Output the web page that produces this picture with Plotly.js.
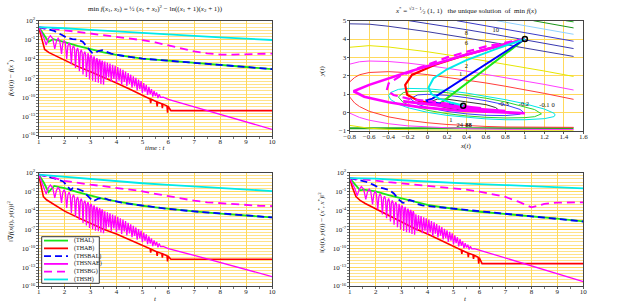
<!DOCTYPE html>
<html><head><meta charset="utf-8">
<script src="https://cdn.plot.ly/plotly-3.0.1.min.js"></script>
<style>html,body{margin:0;padding:0;background:#fff}#chart{width:622px;height:305px}</style>
</head><body><div id="chart"></div>
<script>
// ---------- tick labels ----------
const expVals = [-16,-13,-10,-7,-4,-1,2];
const expText = ['10<sup>-16</sup>','10<sup>-13</sup>','10<sup>-10</sup>','10<sup>-7</sup>','10<sup>-4</sup>','10<sup>-1</sup>','10<sup>2</sup>'];
const seriesNames = ['(THAL)','(THAB)','(THSBAL)','(THSNAE)','(THSBG)','(THSH)'];

// ---------- time panels (values are log10 of the plotted quantity) ----------
// top-left: f(x(t)) - f(x*)
const tl_t_THAL = [1,1.2,1.38,1.56,1.75,2,2.5,3,3.5,4,4.5,5,5.5,6,7,8,9,10];
const tl_THAL   = [1.0,-0.2,-1.3,-0.9,-1.05,-1.35,-1.95,-2.5,-2.95,-3.35,-3.7,-3.95,-4.1,-4.25,-4.6,-4.9,-5.25,-5.58];
const tl_t_THAB = [1,1.1,1.23,1.4,1.6,2,2.5,3,3.5,4,4.5,5,5.3,5.32,5.34,5.55,5.57,5.59,5.75,5.77,5.79,5.95,5.97,5.99,6.1,10];
const tl_THAB   = [1.0,-0.7,-2.5,-3.0,-3.4,-4.25,-5.15,-6.0,-6.85,-7.75,-8.7,-9.7,-10.25,-10.9,-10.3,-10.7,-11.4,-10.75,-11.0,-11.7,-11.05,-11.35,-12.4,-11.4,-12.08,-12.08];
const tl_t_THSBAL = [1,1.3,1.6,1.9,2.1,2.3,2.5,2.7,2.9,3.05,3.15,3.3,3.45,3.6,3.8,4,4.5,5,5.5,6,7,8,9,10];
const tl_THSBAL   = [1.0,0.75,0.4,-0.25,-0.7,-0.9,-0.95,-1.3,-2.2,-3.0,-3.1,-2.75,-2.6,-2.85,-3.15,-3.35,-3.7,-3.95,-4.1,-4.25,-4.6,-4.9,-5.25,-5.58];
const tl_t_THSBG = [1,1.5,2,2.5,3,3.5,4,4.5,5,5.5,6,6.5,7,7.5,8,8.5,9,9.5,10];
const tl_THSBG   = [1.0,0.8,0.5,0.25,0.0,-0.3,-0.55,-0.8,-1.05,-1.4,-1.85,-2.35,-2.8,-3.1,-3.3,-3.3,-3.25,-3.2,-3.15];
const tl_t_THSH = [1,1.5,2,3,4,5,6,7,8,9,10];
const tl_THSH   = [1.0,0.93,0.82,0.55,0.3,0.05,-0.2,-0.42,-0.62,-0.82,-1.02];

// shared time samples of the oscillating (THSNAE) trajectory
const nae_t = [1.00,1.10,1.20,1.29, 1.37,1.45,1.54,1.62, 1.685,1.75,1.815,1.88, 1.93,1.98,2.03,2.08,
  2.125,2.17,2.215,2.26, 2.30,2.34,2.38,2.42, 2.46,2.50,2.53,2.57, 2.605,2.64,2.675,2.71,
  2.74,2.775,2.81,2.84, 2.87,2.90,2.93,2.96, 2.99,3.02,3.05,3.08, 3.11,3.135,3.16,3.19,
  3.22,3.245,3.27,3.30, 3.325,3.35,3.375,3.40, 3.425,3.45,3.475,3.50,
  3.55,3.60,3.65,3.70,3.75,3.80,3.85,3.90,3.95,4.00,4.05,4.10,4.15,4.20,4.25,4.30,4.35,4.40,4.45,4.50,4.55,4.60,
  4.65,4.70,4.75,4.80,4.85,4.90,4.95,5.00,5.05,5.10,5.15,5.20,5.25,5.30,5.35,5.40,5.45,5.50,5.55,5.60,5.65,5.70,
  5.80,6.0,7.0,8.0,9.0,10.0];
const tl_THSNAE = [1.0,0.1,-0.7,-1.8, -0.8,-0.35,-0.8,-2.4, -1.2,-0.75,-1.2,-3.2, -1.55,-1.1,-1.55,-4.0,
  -1.95,-1.5,-1.95,-4.8, -2.35,-1.9,-2.35,-5.4, -2.7,-2.25,-2.7,-5.9, -3.0,-2.55,-3.0,-6.4,
  -3.3,-2.85,-3.3,-6.8, -3.55,-3.1,-3.55,-7.2, -3.8,-3.35,-3.8,-7.4, -4.05,-3.6,-4.05,-7.6,
  -4.3,-3.85,-4.3,-7.7, -4.5,-4.05,-4.5,-7.9, -4.7,-4.25,-4.7,-8.0,
  -4.4,-7.2,-4.55,-6.9,-4.7,-7.5,-4.9,-7.1,-5.05,-7.7,-5.25,-7.4,-5.5,-8.0,-5.7,-7.6,-5.95,-8.2,-6.2,-7.9,-6.45,-8.5,
  -6.7,-8.3,-6.95,-8.9,-7.2,-8.7,-7.45,-9.3,-7.75,-9.1,-8.05,-9.6,-8.35,-9.5,-8.7,-9.9,-9.0,-9.8,-9.25,-10.1,-9.5,-10.0,
  -9.95,-10.3,-11.5,-12.7,-13.8,-15.0];

// bottom-left: |grad f|^2
const bl_t_THAL = [1,1.2,1.38,1.6,1.8,2,2.5,3,3.5,4,4.5,5,5.5,6,7,8,9,10];
const bl_THAL   = [1.7,0.4,-1.1,-0.1,-0.3,-0.45,-1.1,-1.65,-2.15,-2.55,-2.95,-3.25,-3.5,-3.75,-4.15,-4.5,-4.8,-5.1];
const bl_t_THAB = [1,1.1,1.18,1.3,1.5,2,2.5,3,3.5,4,4.5,5,5.3,5.32,5.34,5.55,5.57,5.59,5.75,5.77,5.79,5.95,5.97,5.99,6.1,10];
const bl_THAB   = [1.7,0.0,-1.8,-2.3,-2.85,-4.1,-5.1,-6.1,-7.0,-7.75,-8.65,-9.6,-10.1,-10.7,-10.15,-10.55,-11.2,-10.6,-10.85,-11.5,-10.9,-11.2,-12.1,-11.25,-11.75,-11.75];
const bl_t_THSBAL = [1,1.3,1.6,1.95,2.1,2.23,2.32,2.45,2.7,2.9,3.1,3.3,3.5,3.7,3.9,4.2,4.5,5,5.5,6,7,8,9,10];
const bl_THSBAL   = [1.7,1.45,1.1,0.6,-0.2,-0.75,-0.45,-0.5,-0.9,-1.7,-2.55,-2.1,-2.0,-2.3,-2.5,-2.75,-2.95,-3.25,-3.5,-3.75,-4.15,-4.5,-4.8,-5.1];
const bl_t_THSBG = [1,1.5,2,2.5,3,3.5,4,4.5,5,5.5,6,6.5,7,7.5,8,8.5,9,9.5,10];
const bl_THSBG   = [1.7,1.3,0.7,0.35,0.1,-0.15,-0.4,-0.65,-0.95,-1.35,-1.75,-2.15,-2.45,-2.7,-2.85,-3.0,-3.15,-3.25,-3.3];
const bl_t_THSH = [1,2,3,4,5,6,7,8,9,10];
const bl_THSH   = [1.7,1.35,0.95,0.62,0.32,0.05,-0.2,-0.45,-0.68,-0.92];
const bl_THSNAE = [1.7,0.7,-0.2,-1.4, -0.4,0.05,-0.4,-2.0, -0.8,-0.35,-0.8,-2.8, -1.15,-0.7,-1.15,-3.6,
  -1.55,-1.1,-1.55,-4.4, -1.95,-1.5,-1.95,-5.0, -2.3,-1.85,-2.3,-5.5, -2.6,-2.15,-2.6,-6.0,
  -2.9,-2.45,-2.9,-6.4, -3.15,-2.7,-3.15,-6.8, -3.4,-2.95,-3.4,-7.0, -3.65,-3.2,-3.65,-7.2,
  -3.9,-3.45,-3.9,-7.3, -4.1,-3.65,-4.1,-7.5, -4.3,-3.85,-4.3,-7.6,
  -4.15,-6.95,-4.3,-6.65,-4.45,-7.25,-4.65,-6.85,-4.8,-7.45,-5.0,-7.15,-5.25,-7.75,-5.45,-7.35,-5.7,-7.95,-5.95,-7.65,-6.2,-8.25,
  -6.45,-8.05,-6.7,-8.65,-6.95,-8.45,-7.2,-9.05,-7.5,-8.85,-7.8,-9.35,-8.1,-9.25,-8.45,-9.65,-8.75,-9.55,-9.0,-9.85,-9.25,-9.75,
  -9.7,-10.05,-11.15,-12.25,-13.35,-14.5];

// bottom-right: ||(x,y)-(x*,x*)||^2
const br_t_THAL = [1,1.2,1.4,1.55,1.75,2,2.5,3,3.5,4,4.5,5,5.5,6,7,8,9,10];
const br_THAL   = [1.15,0.1,-0.8,-0.7,-0.8,-0.95,-1.55,-2.1,-2.65,-3.1,-3.45,-3.75,-4.0,-4.2,-4.55,-4.9,-5.3,-5.75];
const br_t_THAB = [1,1.1,1.24,1.4,1.6,2,2.5,3,3.5,4,4.5,5,5.3,5.32,5.34,5.55,5.57,5.59,5.75,5.77,5.79,5.95,5.97,5.99,6.1,10];
const br_THAB   = [1.15,-0.3,-1.8,-2.4,-2.9,-3.75,-4.85,-5.9,-6.85,-7.75,-8.7,-9.7,-10.3,-10.9,-10.35,-10.75,-11.4,-10.8,-11.05,-11.7,-11.1,-11.45,-12.45,-11.5,-12.45,-12.45];
const br_t_THSBAL = [1,1.3,1.6,1.9,2.1,2.3,2.5,2.7,2.9,3.05,3.15,3.3,3.45,3.6,3.8,4,4.5,5,5.5,6,7,8,9,10];
const br_THSBAL   = [1.15,0.9,0.6,0.1,-0.3,-0.5,-0.7,-1.3,-2.3,-2.8,-2.75,-2.35,-2.5,-2.95,-3.2,-3.3,-3.5,-3.75,-4.0,-4.2,-4.55,-4.9,-5.3,-5.75];
const br_t_THSBG = [1,1.5,2,2.5,3,3.5,4,4.5,5,5.5,6,6.5,7,7.5,7.8,8.0,8.2,8.5,9,9.5,10];
const br_THSBG   = [1.15,1.0,0.75,0.5,0.3,0.15,0.0,-0.2,-0.45,-0.7,-1.0,-1.4,-1.85,-2.6,-3.2,-3.5,-3.3,-2.95,-2.75,-2.7,-2.7];
const br_t_THSH = [1,2,3,4,5,6,7,8,9,10];
const br_THSH   = [1.15,1.05,0.8,0.57,0.38,0.2,0.04,-0.14,-0.3,-0.49];
const br_THSNAE = [1.15,0.25,-0.55,-1.65, -0.65,-0.2,-0.65,-2.25, -1.05,-0.6,-1.05,-3.05, -1.4,-0.95,-1.4,-3.85,
  -1.8,-1.35,-1.8,-4.65, -2.2,-1.75,-2.2,-5.25, -2.55,-2.1,-2.55,-5.75, -2.85,-2.4,-2.85,-6.25,
  -3.15,-2.7,-3.15,-6.65, -3.4,-2.95,-3.4,-7.05, -3.65,-3.2,-3.65,-7.25, -3.9,-3.45,-3.9,-7.45,
  -4.15,-3.7,-4.15,-7.55, -4.35,-3.9,-4.35,-7.75, -4.55,-4.1,-4.55,-7.85,
  -4.6,-7.3,-4.75,-7.0,-4.9,-7.6,-5.1,-7.2,-5.25,-7.8,-5.45,-7.5,-5.7,-8.1,-5.9,-7.7,-6.15,-8.3,-6.4,-8.0,-6.65,-8.6,
  -6.9,-8.4,-7.15,-9.0,-7.4,-8.8,-7.65,-9.4,-7.95,-9.2,-8.25,-9.7,-8.55,-9.6,-8.9,-10.0,-9.2,-9.9,-9.45,-10.2,-9.7,-10.1,
  -10.05,-10.3,-11.45,-12.7,-14.0,-15.3];

// ---------- phase plane (top-right): level curves of f ----------
const lvM03_x = [0.03,0.1,0.2,0.4,0.6,0.7,0.725,0.7,0.6,0.4,0.2,0.1,0.03];
const lvM03_y = [0.58,0.725,0.72,0.575,0.422,0.26,0.15,0.06,0.027,0.085,0.24,0.372,0.58];
const lvM02_x = [-0.178,-0.1,0,0.2,0.4,0.6,0.8,0.95,0.98,0.95,0.8,0.6,0.4,0.2,0,-0.1,-0.178];
const lvM02_y = [0.75,0.955,0.985,0.931,0.805,0.633,0.41,0.16,0.03,-0.104,-0.176,-0.16,-0.082,0.05,0.265,0.435,0.75];
const lvM01_x = [-0.3,-0.25,-0.2,0,0.2,0.4,0.6,0.8,1.0,1.1,1.17,1.1,1.0,0.8,0.6,0.4,0.2,0,-0.2,-0.25,-0.3];
const lvM01_y = [0.84,1.075,1.13,1.153,1.073,0.941,0.773,0.57,0.318,0.152,-0.08,-0.235,-0.288,-0.305,-0.27,-0.193,-0.07,0.113,0.41,0.535,0.84];
const lv0_x = [-0.4,-0.38,-0.3,-0.2,0,0.2,0.4,0.6,0.8,1.0,1.2,1.3,1.31,1.3,1.2,1.0,0.8,0.6,0.4,0.2,0,-0.2,-0.3,-0.38,-0.4];
const lv0_y = [0.92,1.08,1.255,1.307,1.285,1.19,1.052,0.886,0.693,0.47,0.18,-0.05,-0.14,-0.23,-0.343,-0.401,-0.402,-0.357,-0.28,-0.165,0,0.25,0.445,0.70,0.92];
const lv1_x = [1.5,1.2,1.0,0.8,0.6,0.4,0.2,0,-0.2,-0.4,-0.6,-0.7,-0.75,-0.8,-0.82,-0.8,-0.75,-0.7,-0.6,-0.4,-0.2,0,0.2,0.4,0.6,0.8,1.0,1.2,1.5];
const lv1_y = [-0.817,-0.82,-0.814,-0.796,-0.768,-0.723,-0.66,-0.567,-0.436,-0.245,0.06,0.32,0.513,0.84,1.25,1.66,1.897,2.05,2.175,2.22,2.165,2.058,1.92,1.77,1.603,1.424,1.235,1.035,0.71];
const lv2_x = [1.5,1.2,0.8,0.4,0,-0.2,-0.4,-0.6,-0.7,-0.8,null,-0.8,-0.7,-0.6,-0.4,-0.2,0,0.4,0.8,1.2,1.5];
const lv2_y = [-0.937,-0.936,-0.924,-0.891,-0.812,-0.737,-0.62,-0.427,-0.275,-0.04,null,2.63,2.76,2.8,2.774,2.685,2.557,2.25,1.905,1.525,1.22];
const lv4_x = [1.5,0.4,0,-0.4,-0.6,-0.8,null,-0.8,-0.6,-0.4,0,0.4,0.8,1.2,1.5];
const lv4_y = [-0.991,-0.985,-0.97,-0.926,-0.866,-0.71,null,3.55,3.64,3.565,3.305,2.98,2.63,2.255,1.96];
const lv8_x = [-0.8,-0.6,-0.4,0,0.4,0.8,1.2,1.5];
const lv8_y = [4.83,4.81,4.696,4.4,4.06,3.703,3.33,3.05];
const lv10_x = [-0.19,0,0.4,0.7,1.0,1.2,1.5];
const lv10_y = [5,4.85,4.51,4.24,3.96,3.77,3.48];
const lv12_x = [0.3,0.6,1.0,1.2,1.5];
const lv12_y = [5,4.73,4.36,4.17,3.88];
const lv14_x = [0.71,1.0,1.5];
const lv14_y = [5,4.735,4.26];
const lv16_x = [1.087,1.5];
const lv16_y = [5,4.606];
const lv18_x = [1.42,1.5];
const lv18_y = [5,4.935];
const lvLow_x = [-0.8,1.5];
const lvLow_y = [-0.87,-0.87];
const lvLabel_x = [0.70,0.40,0.40,0.40,0.34,0.78,0.99,1.20,1.29,0.24,0.33,0.42];
const lvLabel_y = [4.45,4.31,3.77,2.49,2.09,0.46,0.41,0.36,0.36,-0.42,-0.69,-0.69];
const lvLabel_t = ['10','8','6','2','1','-0.3','-0.2','-0.1','0','1','24','<b>88</b>'];

// trajectories
const tr_THAL_x = [1,0.7,0.4,0.12,0.15,0.22,0.3,0.366];
const tr_THAL_y = [4,2.79,1.58,0.45,0.35,0.31,0.33,0.366];
const tr_THAB_x = [1,0.4,0.07,-0.16,-0.23,-0.21,-0.09,0.1,0.25,0.366];
const tr_THAB_y = [4,3.15,2.58,2.04,1.5,0.96,0.62,0.45,0.39,0.366];
const tr_THSBAL_x = [1,0.5,0.05,-0.01,0.0,0.06,0.15,0.26,0.366];
const tr_THSBAL_y = [4,2.29,0.75,0.66,0.58,0.52,0.47,0.42,0.366];
const tr_THSNAE_x = [1,0.4,-0.2,-0.6,-0.76,-0.65,-0.4,-0.1,0.3,0.7,1.0,0.7,0.3,0.0,-0.25,-0.1,0.3,0.7,0.8,0.5,0.2,0.05,0.3,0.55,0.45,0.3,0.366];
const tr_THSNAE_y = [4,3.15,2.2,1.5,1.15,0.85,0.55,0.3,0.1,0.0,-0.05,0.05,0.25,0.45,0.6,0.55,0.3,0.1,0.07,0.2,0.38,0.45,0.33,0.22,0.28,0.38,0.366];
const tr_THSBG_x = [1,0.6,0.2,-0.1,-0.28,-0.4,-0.42,-0.35,-0.2,0.0,0.2,0.366];
const tr_THSBG_y = [4,3.6,3.0,2.4,1.98,1.58,1.2,0.95,0.75,0.6,0.47,0.366];
const tr_THSH_x = [1,0.7,0.4,0.2,0.06,0.01,0.04,0.12,0.25,0.366];
const tr_THSH_y = [4,3.45,2.85,2.35,1.85,1.35,1.0,0.75,0.52,0.38];
const pts_x = [1,0.366];
const pts_y = [4,0.366];

// ---------- styling ----------
const W = 622, H = 305;
const px = v => v / W, py = v => (H - v) / H;
const GOLD = '#ffd95c', GOLD2 = '#ffe28a';
const SERIF = 'Liberation Serif, DejaVu Serif, serif';
const tickFont = {family: SERIF, size: 7, color: '#222'};
const COL = {THAL:'#19e619', THAB:'#ff0000', THSBAL:'#0000ff', THSNAE:'#ff00ff', THSBG:'#ff00ff', THSH:'#00eaea'};
const DASH = {THAL:'solid', THAB:'solid', THSBAL:'7px,4px', THSNAE:'solid', THSBG:'8px,5px', THSH:'solid'};

function line(x, y, xa, ya, color, width, dash) {
  return {type:'scatter', mode:'lines', x, y, xaxis:xa, yaxis:ya,
    line:{color, width, dash: dash || 'solid'}, hoverinfo:'skip', showlegend:false};
}
const traces = [];
function addPanel(xa, ya, d) {
  traces.push(line(d[0][0], d[0][1], xa, ya, COL.THAL, 1.8, DASH.THAL));
  traces.push(line(d[1][0], d[1][1], xa, ya, COL.THAB, 1.6, DASH.THAB));
  traces.push(line(d[2][0], d[2][1], xa, ya, COL.THSBAL, 1.8, DASH.THSBAL));
  traces.push(line(d[3][0], d[3][1], xa, ya, COL.THSNAE, 1.3, DASH.THSNAE));
  traces.push(line(d[4][0], d[4][1], xa, ya, COL.THSBG, 1.8, DASH.THSBG));
  traces.push(line(d[5][0], d[5][1], xa, ya, COL.THSH, 1.8, DASH.THSH));
}
addPanel('x','y',[[tl_t_THAL,tl_THAL],[tl_t_THAB,tl_THAB],[tl_t_THSBAL,tl_THSBAL],[nae_t,tl_THSNAE],[tl_t_THSBG,tl_THSBG],[tl_t_THSH,tl_THSH]]);
addPanel('x3','y3',[[bl_t_THAL,bl_THAL],[bl_t_THAB,bl_THAB],[bl_t_THSBAL,bl_THSBAL],[nae_t,bl_THSNAE],[bl_t_THSBG,bl_THSBG],[bl_t_THSH,bl_THSH]]);
addPanel('x4','y4',[[br_t_THAL,br_THAL],[br_t_THAB,br_THAB],[br_t_THSBAL,br_THSBAL],[nae_t,br_THSNAE],[br_t_THSBG,br_THSBG],[br_t_THSH,br_THSH]]);

// phase plane contours
[[lvLow_x,lvLow_y,'#22aa22',2],[lv18_x,lv18_y,'#22b022',1],[lv16_x,lv16_y,'#1a961a',1],[lv14_x,lv14_y,'#8fd0ff',1],
 [lv12_x,lv12_y,'#3a3ac8',1],[lv10_x,lv10_y,'#3838b0',1],[lv8_x,lv8_y,'#3c3ca0',1],[lv4_x,lv4_y,'#e6e600',1],
 [lv2_x,lv2_y,'#ff3cff',1],[lv1_x,lv1_y,'#ff3c3c',1],[lv0_x,lv0_y,'#00e6e6',1],[lvM01_x,lvM01_y,'#2ad62a',1],
 [lvM02_x,lvM02_y,'#3c3cff',1],[lvM03_x,lvM03_y,'#333333',1]]
 .forEach(c => traces.push(line(c[0], c[1], 'x2', 'y2', c[2], c[3])));
traces.push({type:'scatter', mode:'text', x:lvLabel_x, y:lvLabel_y, text:lvLabel_t, xaxis:'x2', yaxis:'y2',
  textfont:{family:SERIF, size:6.5, color:'#111'}, hoverinfo:'skip', showlegend:false, cliponaxis:false});
traces.push(line(tr_THAL_x, tr_THAL_y, 'x2','y2', COL.THAL, 2));
traces.push(line(tr_THAB_x, tr_THAB_y, 'x2','y2', COL.THAB, 2.2));
traces.push(line(tr_THSBAL_x, tr_THSBAL_y, 'x2','y2', COL.THSBAL, 2));
traces.push(line(tr_THSNAE_x, tr_THSNAE_y, 'x2','y2', COL.THSNAE, 2.6));
traces.push(line(tr_THSBG_x, tr_THSBG_y, 'x2','y2', COL.THSBG, 2.2, DASH.THSBG));
traces.push(line(tr_THSH_x, tr_THSH_y, 'x2','y2', COL.THSH, 2));
traces.push({type:'scatter', mode:'markers', x:pts_x, y:pts_y, xaxis:'x2', yaxis:'y2',
  marker:{symbol:'circle-open', size:5, color:'#000', line:{width:1.5, color:'#000'}}, hoverinfo:'skip', showlegend:false});

// ---------- axes ----------
const dTLx = [px(38.7), px(272)], dTRx = [px(349.7), px(583.3)];
const dTopY = [py(135.7), py(20.7)], dTRy = [py(130.7), py(20.7)], dBotY = [py(286), py(172.7)];
function xTime(domain, anchor) {
  return {domain, anchor, range:[1,10], tickmode:'linear', tick0:1, dtick:1, showgrid:true, gridcolor:GOLD, gridwidth:1,
    zeroline:false, showline:true, mirror:true, linecolor:'#444', linewidth:1, ticks:'outside', ticklen:2, tickcolor:'#555',
    ticklabelstandoff:-3, tickfont:tickFont,
    minor:{tickmode:'linear', tick0:1, dtick:0.5, ticks:'outside', ticklen:2, tickcolor:'#777', showgrid:false}};
}
function yLog(domain, anchor) {
  return {domain, anchor, range:[-16,2], tickmode:'array', tickvals:expVals, ticktext:expText, showgrid:true, gridcolor:GOLD, gridwidth:1,
    zeroline:false, showline:true, mirror:true, linecolor:'#444', linewidth:1, ticks:'outside', ticklen:2, tickcolor:'#555',
    ticklabelstandoff:-1, tickfont:tickFont,
    minor:{tickmode:'linear', tick0:-16, dtick:0.5, ticks:'outside', ticklen:2, tickcolor:'#777', showgrid:true, gridcolor:GOLD2, gridwidth:1}};
}
const layout = {
  width: W, height: H, margin:{l:0,r:0,t:0,b:0}, paper_bgcolor:'#fff', plot_bgcolor:'#fff', showlegend:false,
  font:{family:SERIF, size:7, color:'#222'},
  xaxis: xTime(dTLx, 'y'), yaxis: yLog(dTopY, 'x'),
  xaxis3: xTime(dTLx, 'y3'), yaxis3: yLog(dBotY, 'x3'),
  xaxis4: xTime(dTRx, 'y4'), yaxis4: yLog(dBotY, 'x4'),
  xaxis2: {domain:dTRx, anchor:'y2', range:[-0.8,1.6], tickmode:'linear', tick0:-0.8, dtick:0.2, showgrid:true, gridcolor:GOLD,
    zeroline:false, showline:true, mirror:true, linecolor:'#444', ticks:'outside', ticklen:2, tickcolor:'#555',
    ticklabelstandoff:-3, tickfont:tickFont},
  yaxis2: {domain:dTRy, anchor:'x2', range:[-1,5], tickmode:'linear', tick0:-1, dtick:1, showgrid:true, gridcolor:GOLD,
    zeroline:false, showline:true, mirror:true, linecolor:'#444', ticks:'outside', ticklen:2, tickcolor:'#555',
    ticklabelstandoff:-1, tickfont:tickFont},
  annotations: [], shapes: []
};
function ann(text, xp, yp, opts) {
  layout.annotations.push(Object.assign({text, x:px(xp), y:py(yp), xref:'paper', yref:'paper', showarrow:false,
    xanchor:'center', yanchor:'middle', font:{family:SERIF, size:7, color:'#111'}}, opts || {}));
}
ann('min <i>f</i>(<i>x</i><sub>1</sub>, <i>x</i><sub>2</sub>) = ½ (<i>x</i><sub>1</sub> + <i>x</i><sub>2</sub>)<sup>2</sup> − ln((<i>x</i><sub>1</sub> + 1)(<i>x</i><sub>2</sub> + 1))', 155, 8);
ann('<i>x</i><sup>*</sup> = <sup>√3 − 1</sup>⁄<sub>2</sub> (1, 1)   the unique solution  of  min <i>f</i>(<i>x</i>)', 466, 10);
ann('<i>time</i> : <i>t</i>', 155, 148);
ann('<i>t</i>', 155, 299);
ann('<i>t</i>', 466, 299);
ann('<i>x</i>(<i>t</i>)', 466, 146);
ann('<i>y</i>(<i>t</i>)', 322, 72, {textangle:-90});
ann('<i>f</i>(<i>x</i>(<i>t</i>)) − <i>f</i>(<i>x</i><sup>*</sup>)', 10, 78, {textangle:-90});
ann('‖∇<i>f</i>(<i>x</i>(<i>t</i>), <i>y</i>(<i>t</i>))‖<sup>2</sup>', 10, 222, {textangle:-90});
ann('‖(<i>x</i>(<i>t</i>), <i>y</i>(<i>t</i>)) − (<i>x</i><sup>*</sup>, <i>x</i><sup>*</sup>)‖<sup>2</sup>', 321, 222, {textangle:-90});

// manual legend (bottom-left)
layout.shapes.push({type:'rect', xref:'paper', yref:'paper', x0:px(41.7), x1:px(99.3), y0:py(283.3), y1:py(236.7),
  line:{color:'#333', width:1}, fillcolor:'#fff', layer:'above'});
const legKeys = ['THAL','THAB','THSBAL','THSNAE','THSBG','THSH'];
legKeys.forEach((k, i) => {
  const yc = 240.6 + 7.77 * i;
  layout.shapes.push({type:'line', xref:'paper', yref:'paper', x0:px(44), x1:px(68), y0:py(yc), y1:py(yc),
    line:{color:COL[k], width:1.8, dash:DASH[k]}, layer:'above'});
  ann(seriesNames[i], 72, yc, {xanchor:'left', font:{family:SERIF, size:6, color:'#111'}});
});

Plotly.newPlot('chart', traces, layout, {staticPlot:true, displayModeBar:false});
</script></body></html>
